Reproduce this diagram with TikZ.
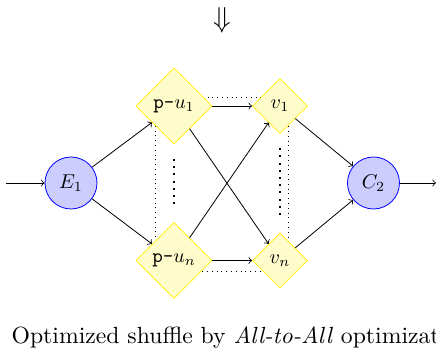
\documentclass[tikz,border=0pt]{standalone}
\usetikzlibrary{shapes.geometric}
\tikzset{
  circ/.style={circle, draw=blue, fill=blue!20, minimum size=26pt, inner sep=0pt},
  bigdia/.style={diamond, draw=yellow, fill=yellow!20, minimum width=38pt, minimum height=38pt, inner sep=0pt},
  smalldia/.style={diamond, draw=yellow, fill=yellow!20, minimum width=27.5pt, minimum height=27.5pt, inner sep=0pt},
  conn/.style={->},
  thickdots/.style={line width=1pt, dash pattern=on 1pt off 2.59pt},
}
\begin{document}
\begin{tikzpicture}[x=0.5pt, y=-0.5pt]
\useasboundingbox (0,0) rectangle (436,351);
\node (arr) at (222,20) {\Large$\Downarrow$};
% dotted frame behind the diamonds
\coordinate (fa) at (155.5,97);
\coordinate (fb) at (288.7,271);
\draw[dotted] (fa) rectangle (fb);
\node[circ] (E1) at (71,183) {$E_1$};
\node[circ] (C2) at (373.5,183) {$C_2$};
\node[bigdia] (pu1) at (174,106) {\texttt{p-}$u_1$};
\node[bigdia] (pun) at (174,260.5) {\texttt{p-}$u_n$};
\node[smalldia] (v1) at (280,106) {$v_1$};
\node[smalldia] (vn) at (280,260.5) {$v_n$};
\coordinate (in) at (6,183);
\coordinate (out) at (436,183);
\coordinate (la) at (174,159);
\coordinate (lb) at (174,204);
\coordinate (ra) at (280,148.3);
\coordinate (rb) at (280,215.5);
\draw[thickdots] (la) -- (lb);
\draw[thickdots] (ra) -- (rb);
\draw[conn] (in) -- (E1);
\draw[conn] (E1) -- (pu1);
\draw[conn] (E1) -- (pun);
\draw[conn] (pu1) -- (v1);
\draw[conn] (pu1) -- (vn);
\draw[conn] (pun) -- (v1);
\draw[conn] (pun) -- (vn);
\draw[conn] (v1) -- (C2);
\draw[conn] (vn) -- (C2);
\draw[conn] (C2) -- (out);
\node[anchor=base west, inner sep=0pt, font=\fontsize{10}{12}\selectfont] (cap) at (11.2,344) {\scalebox{1.185}[1.17]{Optimized shuffle by \textit{All-to-All} optimization}};
\end{tikzpicture}
\end{document}
